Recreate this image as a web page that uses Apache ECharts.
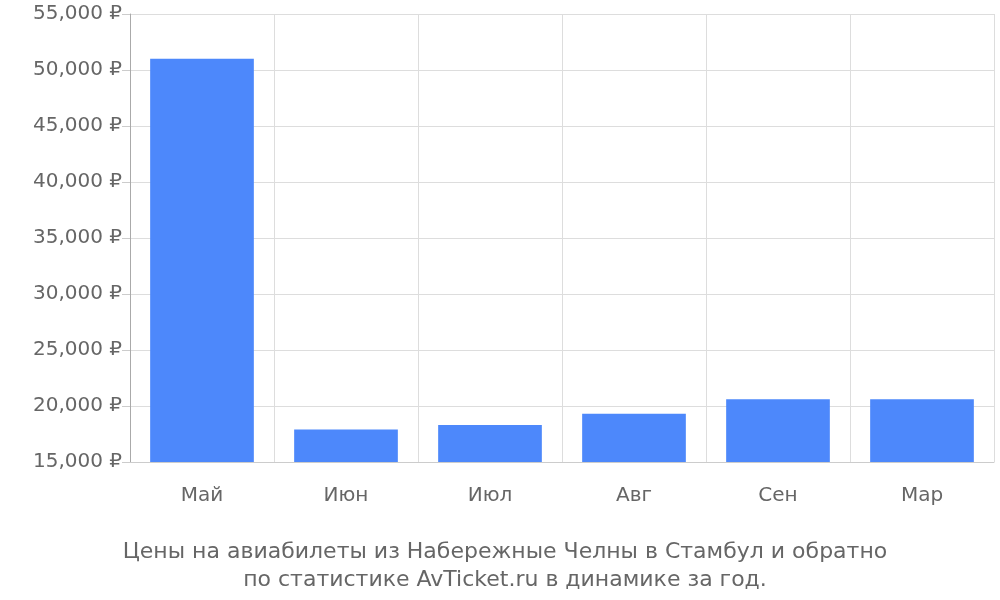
<!DOCTYPE html>
<html>
<head>
  <meta charset="utf-8">
  <script src="https://cdn.jsdelivr.net/npm/echarts@6/dist/echarts.min.js"></script>
  <style>body{margin:0}</style>
</head>
<body>
  <div id="main" style="width:1000px;height:600px;"></div>
  <script type="text/javascript">
    var months = ['Май', 'Июн', 'Июл', 'Авг', 'Сен', 'Мар'];
    var prices = [51000, 17900, 18300, 19300, 20600, 20600];

    var chart = echarts.init(document.getElementById('main'));
    chart.setOption({
      textStyle: { fontFamily: 'DejaVu Sans' },
      title: {
        text: 'Цены на авиабилеты из Набережные Челны в Стамбул и обратно\nпо статистике AvTicket.ru в динамике за год.',
        left: 500, textAlign: 'center', top: 533,
        textStyle: { fontSize: 22, fontWeight: 'normal', color: '#666', lineHeight: 28, fontFamily: 'DejaVu Sans' }
      },
      grid: { left: 130, right: 6, top: 14, bottom: 138 },
      xAxis: {
        type: 'category',
        data: months,
        axisLine: { lineStyle: { color: '#ccc' } },
        axisTick: { length: 18, lineStyle: { color: '#ccc' } },
        splitLine: { show: true, lineStyle: { color: '#ddd' } },
        axisLabel: { color: '#666', fontSize: 20, margin: 24 }
      },
      yAxis: {
        type: 'value',
        min: 15000, max: 55000, interval: 5000,
        axisLine: { show: true, lineStyle: { color: '#aaa' } },
        axisTick: { show: true, length: 8, lineStyle: { color: '#ccc' } },
        splitLine: { lineStyle: { color: '#ddd' } },
        axisLabel: { color: '#666', fontSize: 20, formatter: '{value} ₽' }
      },
      series: [{
        type: 'bar',
        data: prices,
        barWidth: '72%',
        itemStyle: { color: '#4d88fb' }
      }]
    });
  </script>
</body>
</html>
